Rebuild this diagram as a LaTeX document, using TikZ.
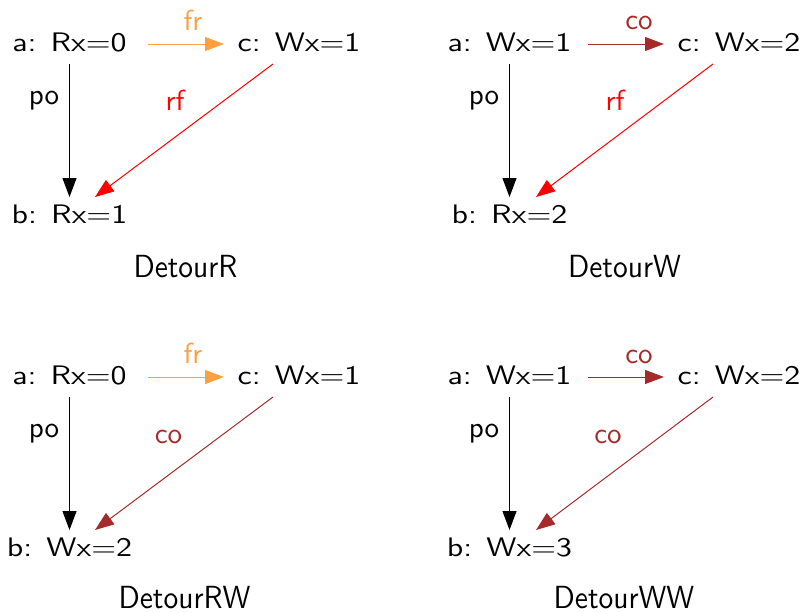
\documentclass[tikz,border=0pt]{standalone}
\usepackage{fontspec}
\usetikzlibrary{arrows.meta}
\newfontfamily\nodefont{lmsans10-regular.otf}[FakeStretch=1.19]
\newfontfamily\edgefont{lmsans10-regular.otf}
\newfontfamily\titlefont{lmsans10-regular.otf}[FakeStretch=0.92]
\definecolor{frcol}{HTML}{FFA040}
\definecolor{cocol}{HTML}{A52A2A}
\definecolor{rfcol}{HTML}{FF0000}
\begin{document}
\begin{tikzpicture}[x=1pt,y=-1pt,
  ev/.style={inner sep=0pt, anchor=base, font=\nodefont\fontsize{26.8}{31}\selectfont},
  elab/.style={inner sep=0pt, anchor=base, font=\edgefont\fontsize{29}{34}\selectfont},
  ttl/.style={inner sep=0pt, anchor=base, font=\titlefont\fontsize{32}{38}\selectfont},
  rel/.style={line width=1pt, -{Triangle[length=19pt,width=14pt]}},
  poedge/.style={rel, color=black},
  fredge/.style={rel, color=frcol},
  coedge/.style={rel, color=cocol},
  rfedge/.style={rel, color=rfcol}
]
\useasboundingbox (0,0) rectangle (801,613);

% ---- DetourR ----
\node[ev] (a1) at (69.5,51) {a: Rx=0};
\node[ev] (c1) at (299,51) {c: Wx=1};
\node[ev] (b1) at (69.5,223) {b: Rx=1};
\node[ttl] (t1) at (185.5,277) {DetourR};
\draw[poedge] ([shift={(0,13)}]a1.base) -- ([shift={(0,-26)}]b1.base);
\draw[fredge] ([shift={(78.5,-7)}]a1.base) -- ([shift={(-75,-7)}]c1.base);
\draw[rfedge] ([shift={(-26,13)}]c1.base) -- ([shift={(25.5,-26)}]b1.base);
\node[elab, color=frcol] (l1a) at (193,30.5) {fr};
\node[elab] (l1b) at (44,104) {po};
\node[elab, color=rfcol] (l1c) at (175,110) {rf};

% ---- DetourW ----
\node[ev] (a2) at (509.5,51) {a: Wx=1};
\node[ev] (c2) at (739,51) {c: Wx=2};
\node[ev] (b2) at (509.5,223) {b: Rx=2};
\node[ttl] (t2) at (624.5,277) {DetourW};
\draw[poedge] ([shift={(0,13)}]a2.base) -- ([shift={(0,-26)}]b2.base);
\draw[coedge] ([shift={(78.5,-7)}]a2.base) -- ([shift={(-75,-7)}]c2.base);
\draw[rfedge] ([shift={(-26,13)}]c2.base) -- ([shift={(26.5,-26)}]b2.base);
\node[elab, color=cocol] (l2a) at (639,30) {co};
\node[elab] (l2b) at (484,104) {po};
\node[elab, color=rfcol] (l2c) at (615,110) {rf};

% ---- DetourRW ----
\node[ev] (a3) at (69.5,384) {a: Rx=0};
\node[ev] (c3) at (299,384) {c: Wx=1};
\node[ev] (b3) at (69.5,556) {b: Wx=2};
\node[ttl] (t3) at (184.5,608) {DetourRW};
\draw[poedge] ([shift={(0,13)}]a3.base) -- ([shift={(0,-26)}]b3.base);
\draw[fredge] ([shift={(78.5,-7)}]a3.base) -- ([shift={(-75,-7)}]c3.base);
\draw[coedge] ([shift={(-26,13)}]c3.base) -- ([shift={(25.5,-26)}]b3.base);
\node[elab, color=frcol] (l3a) at (193,363.5) {fr};
\node[elab] (l3b) at (44,437) {po};
\node[elab, color=cocol] (l3c) at (168.5,443) {co};

% ---- DetourWW ----
\node[ev] (a4) at (509.5,384) {a: Wx=1};
\node[ev] (c4) at (739,384) {c: Wx=2};
\node[ev] (b4) at (509.5,556) {b: Wx=3};
\node[ttl] (t4) at (624,608) {DetourWW};
\draw[poedge] ([shift={(0,13)}]a4.base) -- ([shift={(0,-26)}]b4.base);
\draw[coedge] ([shift={(78.5,-7)}]a4.base) -- ([shift={(-75,-7)}]c4.base);
\draw[coedge] ([shift={(-26,13)}]c4.base) -- ([shift={(26.5,-26)}]b4.base);
\node[elab, color=cocol] (l4a) at (639,363) {co};
\node[elab] (l4b) at (484,437) {po};
\node[elab, color=cocol] (l4c) at (608,443) {co};
\end{tikzpicture}
\end{document}
